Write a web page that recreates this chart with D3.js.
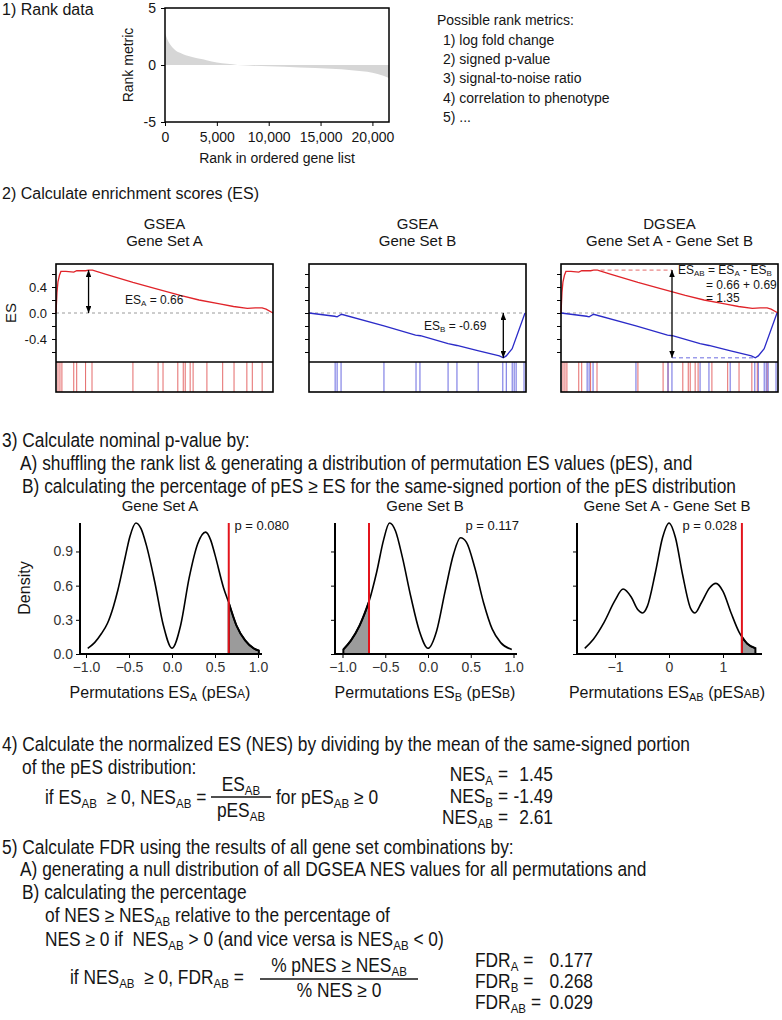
<!DOCTYPE html>
<html>
<head>
<meta charset="utf-8">
<script src="https://cdn.jsdelivr.net/npm/d3@7"></script>
<style>
body { margin: 0; background: #fff; }
text { white-space: pre; }
</style>
</head>
<body>
<div id="fig"></div>
<script>
// ---------- 1) rank data ----------
var rankPos    = [0, 200, 500, 1000, 1500, 2000, 2700, 3500, 4000, 5000, 6000, 7000, 8000, 10000, 13000, 16000, 18000, 19500, 20500, 21600];
var rankMetric = [2.8, 2.3, 1.8, 1.3, 1.05, 0.85, 0.68, 0.52, 0.42, 0.22, 0.1, 0, -0.05, -0.12, -0.22, -0.33, -0.45, -0.6, -0.8, -1.15];
var rankXTicks = [0, 5000, 10000, 15000, 20000];
var rankYTicks = [-5, 0, 5];
var rankMetricList = ['1) log fold change', '2) signed p-value', '3) signal-to-noise ratio', '4) correlation to phenotype', '5) ...'];

// ---------- 2) enrichment scores ----------
var esRankA  = [0, 100, 200, 350, 500, 1000, 1800, 2100, 3000, 3300, 3700, 5000, 7800, 10000, 12600, 14500, 16600, 18000, 19400, 20200, 20900, 21300, 22000];
var esValueA = [0, 0.32, 0.48, 0.58, 0.64, 0.64, 0.63, 0.65, 0.65, 0.66, 0.66, 0.6, 0.47, 0.38, 0.27, 0.2, 0.14, 0.1, 0.07, 0.08, 0.08, 0.06, 0];
var esRankB  = [0, 2600, 2850, 3300, 7600, 10800, 11300, 14100, 15000, 17100, 19300, 19700, 20000, 20600, 21900];
var esValueB = [0, -0.05, -0.06, -0.02, -0.2, -0.34, -0.35, -0.47, -0.5, -0.58, -0.66, -0.69, -0.66, -0.55, 0];
var hitRankA = [200, 400, 600, 1800, 2100, 3000, 3650, 7800, 10350, 10850, 12350, 12900, 13100, 13600, 13900, 15300, 16900, 18050, 19350, 19900, 20900];
var hitRankB = [2650, 2850, 3250, 7600, 10850, 11250, 14100, 15000, 17150, 19650, 20000, 20600, 20800, 21000, 21800];
var esTicks = [-0.6, -0.4, -0.2, 0, 0.2, 0.4, 0.6];
var esLabelTicks = [-0.4, 0, 0.4];
var esScoreA = 0.66, esScoreB = -0.69, esScoreAB = 1.35;

// ---------- 3) permutation ES densities ----------
var densXA = [-0.98, -0.9, -0.82, -0.75, -0.68, -0.63, -0.55, -0.49, -0.42, -0.36, -0.3, -0.2, -0.1, 0, 0.1, 0.2, 0.3, 0.39, 0.45, 0.5, 0.6, 0.66, 0.75, 0.85, 0.95, 1.01];
var densYA = [0.05, 0.1, 0.18, 0.27, 0.42, 0.56, 0.83, 1.03, 1.15, 1.1, 0.96, 0.63, 0.25, 0.05, 0.25, 0.67, 0.97, 1.07, 1.0, 0.87, 0.58, 0.45, 0.25, 0.12, 0.05, 0.03];
var densXB = [-0.99, -0.9, -0.8, -0.69, -0.6, -0.52, -0.45, -0.38, -0.3, -0.2, -0.1, 0, 0.1, 0.2, 0.3, 0.38, 0.45, 0.55, 0.65, 0.75, 0.85, 0.98];
var densYB = [0.04, 0.12, 0.25, 0.46, 0.72, 1.0, 1.15, 1.08, 0.85, 0.5, 0.2, 0.05, 0.2, 0.55, 0.88, 1.02, 0.98, 0.75, 0.45, 0.22, 0.1, 0.04];
var densXC = [-1.56, -1.4, -1.2, -1.0, -0.85, -0.7, -0.58, -0.49, -0.4, -0.25, -0.12, 0, 0.12, 0.25, 0.4, 0.48, 0.6, 0.75, 0.87, 1.0, 1.15, 1.3, 1.35, 1.45, 1.6];
var densYC = [0.05, 0.13, 0.28, 0.47, 0.57, 0.5, 0.39, 0.36, 0.42, 0.72, 1.02, 1.15, 1.02, 0.7, 0.4, 0.36, 0.45, 0.58, 0.62, 0.55, 0.36, 0.19, 0.15, 0.09, 0.05];
var densYTicks = [0, 0.3, 0.6, 0.9];
var pValues = ['0.080', '0.117', '0.028'];

// ---------- 4) NES and 5) FDR ----------
var nesLabels = ['NES_{A} =', 'NES_{B} =', 'NES_{AB} ='];
var nesValues = ['1.45', '-1.49', '2.61'];
var fdrLabels = ['FDR_{A} =', 'FDR_{B} =', 'FDR_{AB} ='];
var fdrValues = ['0.177', '0.268', '0.029'];

var SANS = "'Liberation Sans', Arial, sans-serif";
var NARROW = 'narrow';      // drawn as Liberation Sans squeezed horizontally
var NARROW_SCALE = 0.89;
var BODY = 19.5;            // font size of the narrow body text
var INK = '#151515';

var svg = d3.select('#fig').append('svg')
    .attr('width', 782)
    .attr('height', 1020)
    .style('font-family', SANS);

svg.append('rect').attr('width', 782).attr('height', 1020).attr('fill', '#fff');

// Arrow head used by the ES arrows.
svg.append('defs').append('marker')
    .attr('id', 'arrow')
    .attr('viewBox', '0 0 10 8')
    .attr('refX', 10).attr('refY', 4)
    .attr('markerWidth', 7).attr('markerHeight', 5.6)
    .attr('markerUnits', 'userSpaceOnUse')
    .attr('orient', 'auto-start-reverse')
  .append('path')
    .attr('d', 'M0,0 L10,4 L0,8 z')
    .attr('fill', '#000');

// Text with _{sub} subscripts and ~{small} letters.
function label(x, y, str, o) {
    o = o || {};
    var fs = o.size || 14;
    var t = svg.append('text')
        .attr('font-size', fs + 'px')
        .attr('font-family', SANS)
        .attr('text-anchor', o.anchor || 'start')
        .attr('fill', o.fill || INK);
    if (o.family === NARROW) {
        t.attr('x', 0).attr('y', 0)
         .attr('transform', 'translate(' + x + ',' + y + ') scale(' + NARROW_SCALE + ',1)');
    } else {
        t.attr('x', x).attr('y', y);
        if (o.rotate) t.attr('transform', 'rotate(-90,' + x + ',' + y + ')');
    }
    var parts = str.split(/([_~])\{([^}]*)\}/);
    var shift = 0, down = Math.round(fs * 0.2);
    for (var i = 0; i < parts.length; i += 3) {
        if (parts[i]) {
            var s = t.append('tspan').text(parts[i]);
            if (shift) { s.attr('dy', -shift); shift = 0; }
        }
        if (i + 2 < parts.length) {
            var isSub = parts[i + 1] === '_';
            var s2 = t.append('tspan').text(parts[i + 2])
                .attr('font-size', Math.round(fs * (isSub ? 0.68 : 0.75)) + 'px');
            if (isSub) { s2.attr('dy', down - shift); shift = down; }
            else if (shift) { s2.attr('dy', -shift); shift = 0; }
        }
    }
    return t;
}

function styleAxis(g, fs, color) {
    g.select('.domain').remove();
    g.selectAll('.tick line').attr('stroke', '#000').attr('stroke-width', 1);
    g.selectAll('.tick text').attr('font-size', fs + 'px').attr('font-family', SANS).attr('fill', color || INK);
}

// ============ 1) Rank data ============
label(2, 15, '1) Rank data', {size: 16});

var rx = d3.scaleLinear().domain([0, 21600]).range([165, 389]);
var ry = d3.scaleLinear().domain([-5, 5]).range([122, 8]);

svg.append('path')
    .datum(d3.range(rankPos.length))
    .attr('d', d3.area()
        .x(function(i){ return rx(rankPos[i]); })
        .y0(ry(0))
        .y1(function(i){ return ry(rankMetric[i]); })
        .curve(d3.curveMonotoneX))
    .attr('fill', '#d6d6d6');

svg.append('rect')
    .attr('x', rx(0)).attr('y', ry(5))
    .attr('width', rx(21600) - rx(0)).attr('height', ry(-5) - ry(5))
    .attr('fill', 'none').attr('stroke', '#000').attr('stroke-width', 1.5);

var rankXAxis = svg.append('g')
    .attr('transform', 'translate(0,' + ry(-5) + ')')
    .call(d3.axisBottom(rx).tickValues(rankXTicks).tickFormat(d3.format(',')).tickSize(4).tickPadding(6));
styleAxis(rankXAxis, 14);

var rankYAxis = svg.append('g')
    .attr('transform', 'translate(' + rx(0) + ',0)')
    .call(d3.axisLeft(ry).tickValues(rankYTicks).tickFormat(d3.format('d')).tickSize(4).tickPadding(5));
styleAxis(rankYAxis, 14);
rankYAxis.selectAll('.tick text').text(function(d){ return d < 0 ? '-' + Math.abs(d) : d; });

label(277, 163, 'Rank in ordered gene list', {size: 14, anchor: 'middle'});
label(133, 65, 'Rank metric', {size: 14, anchor: 'middle', rotate: true});

label(437, 25, 'Possible rank metrics:', {size: 14});
rankMetricList.forEach(function(d, i){
    label(443, 44.5 + i * 19.4, d, {size: 14});
});

// ============ 2) Enrichment scores ============
label(2, 199, '2) Calculate enrichment scores (ES)', {size: 16});

var esTop = 264, esMid = 362, esBottom = 392, esWidth = 217;
var esY = d3.scaleLinear().domain([-0.754, 0.754]).range([esMid, esTop]);
var esLine = d3.line().x(function(d){ return d[0]; }).y(function(d){ return esY(d[1]); });
var RED = '#e0242a', BLUE = '#2b2bc8', RED_HIT = '#e46a6a', BLUE_HIT = '#6a6ae0';

function zip(a, b) { return a.map(function(v, i){ return [v, b[i]]; }); }

var esPanels = [
    {x0: 56,  titles: ['GSEA', 'Gene Set A'], sets: ['A'], yLabels: true},
    {x0: 309, titles: ['GSEA', 'Gene Set B'], sets: ['B'], yLabels: false},
    {x0: 561, titles: ['DGSEA', 'Gene Set A - Gene Set B'], sets: ['A', 'B'], yLabels: false}
];

var esData = {
    A: {rank: esRankA, value: esValueA, hits: hitRankA, color: RED, hit: RED_HIT},
    B: {rank: esRankB, value: esValueB, hits: hitRankB, color: BLUE, hit: BLUE_HIT}
};

esPanels.forEach(function(p){
    var x = d3.scaleLinear().domain([0, 22000]).range([p.x0, p.x0 + esWidth]);
    p.x = x;
    var cx = p.x0 + esWidth / 2;
    label(cx, 229, p.titles[0], {size: 15, anchor: 'middle'});
    label(cx, 246, p.titles[1], {size: 15, anchor: 'middle'});

    // zero line
    svg.append('line')
        .attr('x1', p.x0).attr('x2', p.x0 + esWidth)
        .attr('y1', esY(0)).attr('y2', esY(0))
        .attr('stroke', '#9a9a9a').attr('stroke-dasharray', '3,3').attr('stroke-width', 1);

    // barcode
    p.sets.forEach(function(s){
        svg.append('g').selectAll('line')
            .data(esData[s].hits)
            .enter().append('line')
                .attr('x1', function(d){ return x(d); })
                .attr('x2', function(d){ return x(d); })
                .attr('y1', esMid).attr('y2', esBottom)
                .attr('stroke', esData[s].hit).attr('stroke-width', 1);
    });

    // running ES curves
    p.sets.forEach(function(s){
        var dd = esData[s];
        svg.append('path')
            .datum(zip(dd.rank, dd.value))
            .attr('d', esLine.x(function(d){ return x(d[0]); }))
            .attr('fill', 'none').attr('stroke', dd.color).attr('stroke-width', 1.3);
    });

    // frame
    svg.append('rect')
        .attr('x', p.x0).attr('y', esTop)
        .attr('width', esWidth).attr('height', esBottom - esTop)
        .attr('fill', 'none').attr('stroke', '#000').attr('stroke-width', 1.6);
    svg.append('line')
        .attr('x1', p.x0).attr('x2', p.x0 + esWidth)
        .attr('y1', esMid).attr('y2', esMid)
        .attr('stroke', '#000').attr('stroke-width', 1.6);

    var yAxis = svg.append('g')
        .attr('transform', 'translate(' + p.x0 + ',0)')
        .call(d3.axisLeft(esY).tickValues(esTicks).tickSize(4).tickPadding(5)
            .tickFormat(function(d){
                if (!p.yLabels || esLabelTicks.indexOf(Math.round(d * 10) / 10) < 0) return '';
                return d3.format('.1f')(d).replace('\u2212', '-');
            }));
    styleAxis(yAxis, 13);
});

label(16, esY(0), 'ES', {size: 15, anchor: 'middle', rotate: true});

// Arrow and annotation, gene set A.
var iMaxA = d3.maxIndex(esValueA), iMinB = d3.minIndex(esValueB);
var pa = esPanels[0], pb = esPanels[1], pc = esPanels[2];
svg.append('line')
    .attr('x1', pa.x(esRankA[iMaxA])).attr('x2', pa.x(esRankA[iMaxA]))
    .attr('y1', esY(0)).attr('y2', esY(esScoreA))
    .attr('stroke', '#000').attr('stroke-width', 1.3)
    .attr('marker-start', 'url(#arrow)').attr('marker-end', 'url(#arrow)');
label(125, 304, 'ES_{A} = ' + esScoreA.toFixed(2), {size: 12});

// Arrow and annotation, gene set B.
svg.append('line')
    .attr('x1', pb.x(esRankB[iMinB])).attr('x2', pb.x(esRankB[iMinB]))
    .attr('y1', esY(0)).attr('y2', esY(esScoreB))
    .attr('stroke', '#000').attr('stroke-width', 1.3)
    .attr('marker-start', 'url(#arrow)').attr('marker-end', 'url(#arrow)');
label(424, 330, 'ES_{B} = ' + esScoreB.toFixed(2), {size: 12});

// DGSEA: difference arrow with dashed guides.
var arrowX = pc.x0 + 111;
svg.append('line')
    .attr('x1', pc.x(esRankA[iMaxA])).attr('x2', arrowX)
    .attr('y1', esY(esScoreA)).attr('y2', esY(esScoreA))
    .attr('stroke', RED_HIT).attr('stroke-dasharray', '4,3').attr('stroke-width', 1);
svg.append('line')
    .attr('x1', arrowX).attr('x2', pc.x(esRankB[iMinB]))
    .attr('y1', esY(esScoreB)).attr('y2', esY(esScoreB))
    .attr('stroke', BLUE_HIT).attr('stroke-dasharray', '4,3').attr('stroke-width', 1);
svg.append('line')
    .attr('x1', arrowX).attr('x2', arrowX)
    .attr('y1', esY(esScoreA)).attr('y2', esY(esScoreB))
    .attr('stroke', '#000').attr('stroke-width', 1.3)
    .attr('marker-start', 'url(#arrow)').attr('marker-end', 'url(#arrow)');
label(678, 274, 'ES_{AB} = ES_{A} - ES_{B}', {size: 12});
label(706, 288.5, '= ' + esScoreA.toFixed(2) + ' + ' + Math.abs(esScoreB).toFixed(2), {size: 12});
label(706, 302, '= ' + esScoreAB.toFixed(2), {size: 12});

// ============ 3) Nominal p-value ============
label(2, 447, '3) Calculate nominal p-value by:', {size: BODY, family: NARROW});
label(20, 470, 'A) shuffling the rank list & generating a distribution of permutation ES values (pES), and', {size: BODY, family: NARROW});
label(22, 493, 'B) calculating the percentage of pES \u2265 ES for the same-signed portion of the pES distribution', {size: BODY, family: NARROW});

var dTop = 523, dBottom = 654;
var dY = d3.scaleLinear().domain([0, 1.15]).range([dBottom, dTop]);

var densPanels = [
    {xs: densXA, ys: densYA, thr: esScoreA, right: true, p: pValues[0], title: 'Gene Set A',
     xlab: 'Permutations ES_{A} (pES~{A})', axis: [80, 262], range: [86, 258], ticks: [-1, -0.5, 0, 0.5, 1], fmt: '.1f', cx: 160, pEnd: 289, yLabels: true},
    {xs: densXB, ys: densYB, thr: esScoreB, right: false, p: pValues[1], title: 'Gene Set B',
     xlab: 'Permutations ES_{B} (pES~{B})', axis: [335, 517], range: [342.5, 513.5], ticks: [-1, -0.5, 0, 0.5, 1], fmt: '.1f', cx: 425, pEnd: 519, yLabels: false},
    {xs: densXC, ys: densYC, thr: esScoreAB, right: true, p: pValues[2], title: 'Gene Set A - Gene Set B',
     xlab: 'Permutations ES_{AB} (pES~{AB})', axis: [577, 762], range: [615, 723], ticks: [-1, 0, 1], fmt: 'd', cx: 667, pEnd: 737, yLabels: false}
];

densPanels.forEach(function(p){
    var x = d3.scaleLinear().domain([-1, 1]).range(p.range);
    var pts = zip(p.xs, p.ys);
    var tail = pts.filter(function(d){ return p.right ? d[0] >= p.thr : d[0] <= p.thr; });

    // shaded tail beyond the observed ES
    svg.append('path')
        .datum(tail)
        .attr('d', d3.area().x(function(d){ return x(d[0]); }).y0(dBottom).y1(function(d){ return dY(d[1]); }).curve(d3.curveMonotoneX))
        .attr('fill', '#9b9b9b').attr('stroke', '#000').attr('stroke-width', 2);

    svg.append('path')
        .datum(pts)
        .attr('d', d3.line().x(function(d){ return x(d[0]); }).y(function(d){ return dY(d[1]); }).curve(d3.curveMonotoneX))
        .attr('fill', 'none').attr('stroke', '#000').attr('stroke-width', 1.6);

    svg.append('line')
        .attr('x1', x(p.thr)).attr('x2', x(p.thr))
        .attr('y1', dBottom).attr('y2', dTop)
        .attr('stroke', '#e3141c').attr('stroke-width', 2);

    var xAxis = svg.append('g')
        .attr('transform', 'translate(0,' + dBottom + ')')
        .call(d3.axisBottom(x).tickValues(p.ticks).tickSize(4).tickPadding(4).tickFormat(d3.format(p.fmt)));
    styleAxis(xAxis, 14, '#333');

    var yAxis = svg.append('g')
        .attr('transform', 'translate(' + p.axis[0] + ',0)')
        .call(d3.axisLeft(dY).tickValues(densYTicks).tickSize(4).tickPadding(3)
            .tickFormat(function(d){ return p.yLabels ? d3.format('.1f')(d) : ''; }));
    styleAxis(yAxis, 14, '#333');

    // axis lines (classic theme)
    svg.append('line')
        .attr('x1', p.axis[0] - 1).attr('x2', p.axis[1])
        .attr('y1', dBottom).attr('y2', dBottom)
        .attr('stroke', '#000').attr('stroke-width', 2);
    svg.append('line')
        .attr('x1', p.axis[0]).attr('x2', p.axis[0])
        .attr('y1', dTop).attr('y2', dBottom)
        .attr('stroke', '#000').attr('stroke-width', 2);

    label(p.cx, 511, p.title, {size: 15, anchor: 'middle'});
    label(p.pEnd, 530, 'p = ' + p.p, {size: 13, anchor: 'end'});
    label(p.cx, 698, p.xlab, {size: 16, anchor: 'middle'});
});

label(30, 588, 'Density', {size: 16, anchor: 'middle', rotate: true});

// ============ 4) NES ============
function fraction(cx, half, yNum, yBar, yDen, num, den, fs) {
    label(cx, yNum, num, {size: fs, anchor: 'middle', family: NARROW});
    svg.append('line')
        .attr('x1', cx - half).attr('x2', cx + half)
        .attr('y1', yBar).attr('y2', yBar)
        .attr('stroke', INK).attr('stroke-width', 1.3);
    label(cx, yDen, den, {size: fs, anchor: 'middle', family: NARROW});
}

label(2, 751, '4) Calculate the normalized ES (NES) by dividing by the mean of the same-signed portion', {size: BODY, family: NARROW});
label(22, 774, 'of the pES distribution:', {size: BODY, family: NARROW});
label(45, 804, 'if ES_{AB}  \u2265 0, NES_{AB} =', {size: BODY, family: NARROW});
fraction(241, 30, 791, 797, 817, 'ES_{AB}', 'pES_{AB}', BODY);
label(276, 804, 'for pES_{AB} \u2265 0', {size: BODY, family: NARROW});

nesLabels.forEach(function(d, i){
    var y = 781 + i * 21.5;
    label(508, y, d, {size: BODY, family: NARROW, anchor: 'end'});
    label(553, y, nesValues[i], {size: BODY, family: NARROW, anchor: 'end'});
});

// ============ 5) FDR ============
label(2, 854, '5) Calculate FDR using the results of all gene set combinations by:', {size: BODY, family: NARROW});
label(20, 876, 'A) generating a null distribution of all DGSEA NES values for all permutations and', {size: BODY, family: NARROW});
label(22, 899, 'B) calculating the percentage', {size: BODY, family: NARROW});
label(45, 921.5, 'of NES \u2265 NES_{AB} relative to the percentage of', {size: BODY, family: NARROW});
label(45, 946, 'NES \u2265 0 if  NES_{AB} > 0 (and vice versa is NES_{AB} < 0)', {size: BODY, family: NARROW});
label(70, 984, 'if NES_{AB}  \u2265 0, FDR_{AB} =', {size: BODY, family: NARROW});
fraction(339, 79, 972, 979, 997, '% pNES \u2265 NES_{AB}', '% NES \u2265 0', BODY);

fdrLabels.forEach(function(d, i){
    var y = 967 + i * 21;
    label(475, y, d, {size: BODY, family: NARROW});
    label(593, y, fdrValues[i], {size: BODY, family: NARROW, anchor: 'end'});
});
</script>
</body>
</html>
